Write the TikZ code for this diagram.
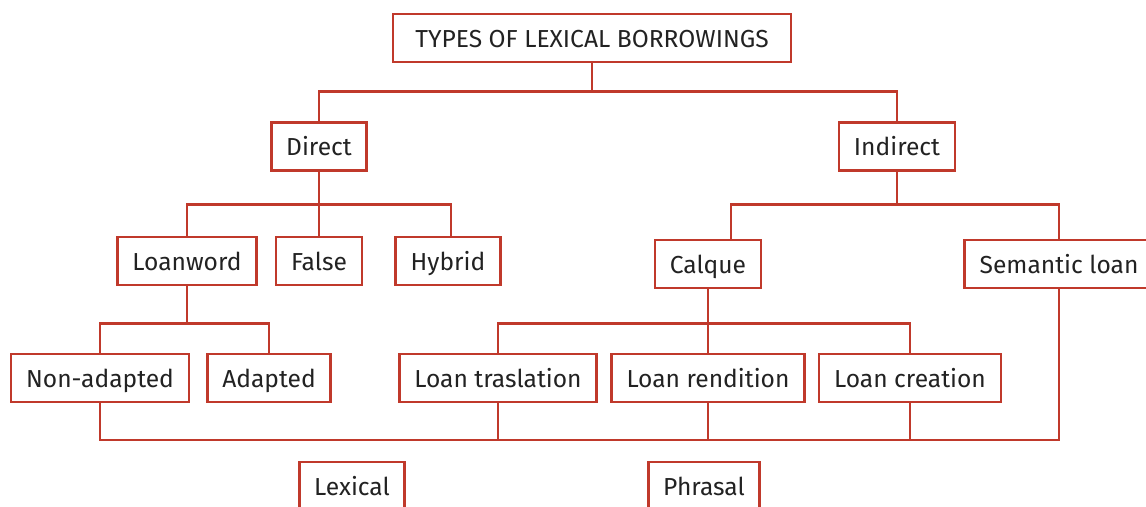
\documentclass[tikz,border=0pt]{standalone}
\usepackage{fontspec}
\setmainfont{Fira Sans}
\usetikzlibrary{positioning}
\definecolor{boxred}{RGB}{192,57,43}
\definecolor{txtgray}{RGB}{34,34,34}

\begin{document}
\begin{tikzpicture}[
        x=0.02cm, y=-0.02cm,
        catbox/.style={draw=boxred, line width=1.5pt, fill=white, text=txtgray, minimum height=0.96cm, inner xsep=0.3cm, text height=12.5pt, text depth=2pt, font=\fontsize{14}{17}\selectfont},
        link/.style={draw=boxred, line width=1.5pt}
    ]
        \useasboundingbox (0,0) rectangle (1146,507);

        % top level
        \node[catbox, minimum width=7.96cm] (types) at (592,38) {TYPES OF LEXICAL BORROWINGS};
        \node[catbox] (direct) at (319,146.5) {Direct};
        \node[catbox] (indirect) at (897,146.5) {Indirect};

        % direct branch
        \node[catbox] (loanword) at (187,261) {Loanword};
        \node[catbox] (false) at (319,261) {False};
        \node[catbox] (hybrid) at (448,261) {Hybrid};
        \node[catbox] (nonadapted) at (100,378) {Non-adapted};
        \node[catbox] (adapted) at (269,378) {Adapted};

        % indirect branch
        \node[catbox] (calque) at (708,264) {Calque};
        \node[catbox] (semantic) at (1059,264) {Semantic loan};
        \node[catbox] (traslation) at (498,378) {Loan traslation};
        \node[catbox] (rendition) at (708,378) {Loan rendition};
        \node[catbox] (creation) at (910,378) {Loan creation};

        % bottom row
        \node[catbox] (lexical) at (352,486) {Lexical};
        \node[catbox] (phrasal) at (704,486) {Phrasal};

        \coordinate (joinline) at (100,440);

        \draw[link] (types.south) -- ++(0,28) -| (direct.north);
        \draw[link] (types.south) -- ++(0,28) -| (indirect.north);
        \draw[link] (direct.south) -- ++(0,33) -| (loanword.north);
        \draw[link] (direct.south) -- (false.north);
        \draw[link] (direct.south) -- ++(0,33) -| ([xshift=0.06cm]hybrid.north);
        \draw[link] (indirect.south) -- ++(0,33) -| ([xshift=0.46cm]calque.north);
        \draw[link] (indirect.south) -- ++(0,33) -| (semantic.north);
        \draw[link] (loanword.south) -- ++(0,37) -| (nonadapted.north);
        \draw[link] (loanword.south) -- ++(0,37) -| (adapted.north);
        \draw[link] (calque.south) -- ++(0,34) -| (traslation.north);
        \draw[link] (calque.south) -- (rendition.north);
        \draw[link] (calque.south) -- ++(0,34) -| (creation.north);
        \draw[link] (nonadapted.south) -- (joinline) -| (semantic.south);
        \draw[link] (traslation.south) -- (traslation.south |- joinline);
        \draw[link] (rendition.south) -- (rendition.south |- joinline);
        \draw[link] (creation.south) -- (creation.south |- joinline);
    \end{tikzpicture}
\end{document}
